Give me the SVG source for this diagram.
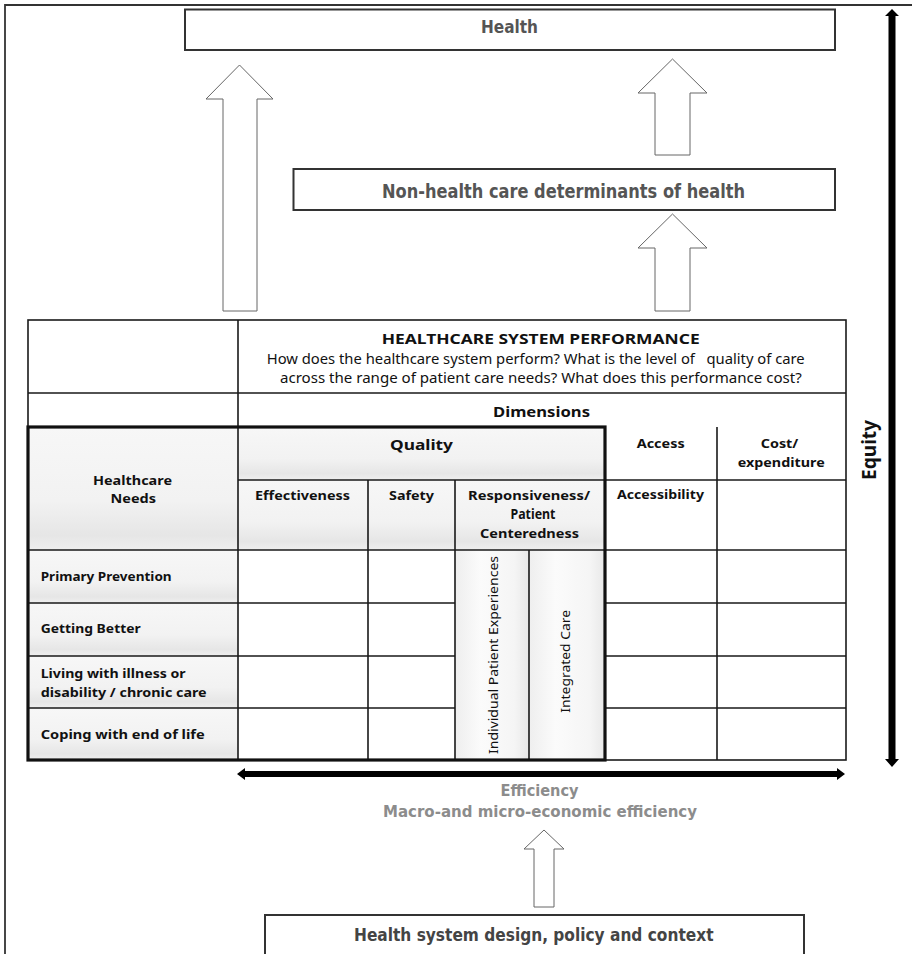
<svg xmlns="http://www.w3.org/2000/svg" width="912" height="954" viewBox="0 0 912 954">
  <style>
    .box { fill: #ffffff; stroke: #333333; stroke-width: 2; }
    .block-arrow { fill: #ffffff; stroke: #666666; stroke-width: 1; stroke-linejoin: miter; }
    .bar-arrow { fill: #000000; stroke: none; }
    .grid { stroke: #1a1a1a; stroke-width: 1.6; fill: none; }
    .thick { stroke: #111111; stroke-width: 3.2; fill: none; }
    .lbl { font-family: "Liberation Sans Narrow", "DejaVu Sans Condensed", "Liberation Sans", sans-serif; font-weight: bold; }
    .tb { font-family: "Noto Sans", "Open Sans", "Liberation Sans", sans-serif; fill: #111111; }
    .b { font-weight: bold; }
  </style>
  <defs>
    <linearGradient id="cellShade" x1="0" y1="0" x2="0" y2="1">
      <stop offset="0" stop-color="#f7f7f7"/>
      <stop offset="0.6" stop-color="#f2f2f2"/>
      <stop offset="0.88" stop-color="#e6e6e6"/>
      <stop offset="1" stop-color="#efefef"/>
    </linearGradient>
    <linearGradient id="colShade" x1="0" y1="0" x2="1" y2="0">
      <stop offset="0" stop-color="#eeeeee"/>
      <stop offset="0.35" stop-color="#fbfbfb"/>
      <stop offset="0.8" stop-color="#f5f5f5"/>
      <stop offset="1" stop-color="#e8e8e8"/>
    </linearGradient>
  </defs>

  <!-- page frame -->
  <rect x="0" y="0" width="912" height="954" fill="#ffffff"/>
  <path d="M5,954 L5,5 L912,5" fill="none" stroke="#333333" stroke-width="1.8"/>

  <!-- outcome boxes -->
  <g id="health">
    <rect class="box" x="185" y="9.5" width="650" height="40.5"/>
    <text class="lbl" x="481" y="32.5" font-size="17" fill="#555555" textLength="57" lengthAdjust="spacingAndGlyphs">Health</text>
  </g>
  <g id="non-health-determinants">
    <rect class="box" x="293.5" y="169" width="541.5" height="41"/>
    <text class="lbl" x="382" y="197.5" font-size="19" fill="#555555" textLength="363" lengthAdjust="spacingAndGlyphs">Non-health care determinants of health</text>
  </g>

  <!-- performance table -->
  <g id="performance-table">
    <!-- shaded cells -->
    <rect x="28" y="427" width="210" height="123" fill="url(#cellShade)"/>
    <rect x="238" y="427" width="367" height="53" fill="url(#cellShade)"/>
    <rect x="238" y="480" width="367" height="70" fill="url(#cellShade)"/>
    <rect x="28" y="550" width="210" height="53" fill="url(#cellShade)"/>
    <rect x="28" y="603" width="210" height="53" fill="url(#cellShade)"/>
    <rect x="28" y="656" width="210" height="52" fill="url(#cellShade)"/>
    <rect x="28" y="708" width="210" height="52" fill="url(#cellShade)"/>
    <rect x="455" y="550" width="74" height="210" fill="url(#colShade)"/>
    <rect x="529" y="550" width="76" height="210" fill="url(#colShade)"/>

    <!-- grid lines -->
    <rect class="grid" x="28" y="320" width="818" height="440"/>
    <path class="grid" d="M28,393 H846 M238,320 V760 M368,480 V760 M455,480 V760 M529,550 V760 M717,427 V760 M238,480 H846 M28,550 H846 M28,603 H455 M605,603 H846 M28,656 H455 M605,656 H846 M28,708 H455 M605,708 H846"/>
    <rect class="thick" x="28" y="427" width="577" height="333"/>

    <!-- header -->
    <text class="tb b" x="381.7" y="344.3" font-size="15" textLength="318" lengthAdjust="spacingAndGlyphs">HEALTHCARE SYSTEM PERFORMANCE</text>
    <text class="tb" x="266.7" y="364" font-size="13.5" textLength="538" lengthAdjust="spacingAndGlyphs" xml:space="preserve">How does the healthcare system perform? What is the level of   quality of care</text>
    <text class="tb" x="280" y="383" font-size="13.5" textLength="521.7" lengthAdjust="spacingAndGlyphs">across the range of patient care needs? What does this performance cost?</text>
    <text class="tb b" x="493" y="416.7" font-size="14.5" textLength="97" lengthAdjust="spacingAndGlyphs">Dimensions</text>

    <text class="tb b" x="390" y="450" font-size="15" textLength="63" lengthAdjust="spacingAndGlyphs">Quality</text>
    <text class="tb b" x="636.7" y="448" font-size="13" textLength="48" lengthAdjust="spacingAndGlyphs">Access</text>
    <text class="tb b" x="760.7" y="448" font-size="13" textLength="37.6" lengthAdjust="spacingAndGlyphs">Cost/</text>
    <text class="tb b" x="737.7" y="466.7" font-size="13" textLength="87" lengthAdjust="spacingAndGlyphs">expenditure</text>

    <text class="tb b" x="93" y="485" font-size="13" textLength="79" lengthAdjust="spacingAndGlyphs">Healthcare</text>
    <text class="tb b" x="110.5" y="503.3" font-size="13" textLength="45.5" lengthAdjust="spacingAndGlyphs">Needs</text>

    <text class="tb b" x="255" y="500" font-size="13" textLength="95" lengthAdjust="spacingAndGlyphs">Effectiveness</text>
    <text class="tb b" x="389" y="500" font-size="13" textLength="45" lengthAdjust="spacingAndGlyphs">Safety</text>
    <text class="tb b" x="468" y="500" font-size="13" textLength="122" lengthAdjust="spacingAndGlyphs">Responsiveness/</text>
    <text class="tb b" x="510.5" y="519.3" font-size="13.5" textLength="45" lengthAdjust="spacingAndGlyphs">Patient</text>
    <text class="tb b" x="480" y="537.7" font-size="13" textLength="99" lengthAdjust="spacingAndGlyphs">Centeredness</text>
    <text class="tb b" x="617" y="499.3" font-size="13" textLength="87" lengthAdjust="spacingAndGlyphs">Accessibility</text>

    <!-- care needs rows -->
    <text class="tb b" x="40.7" y="581" font-size="12.5" textLength="131" lengthAdjust="spacingAndGlyphs">Primary Prevention</text>
    <text class="tb b" x="40.7" y="633.3" font-size="12.5" textLength="100" lengthAdjust="spacingAndGlyphs">Getting Better</text>
    <text class="tb b" x="40.7" y="678.3" font-size="12.5" textLength="145" lengthAdjust="spacingAndGlyphs">Living with illness or</text>
    <text class="tb b" x="40.7" y="696.7" font-size="12.5" textLength="166" lengthAdjust="spacingAndGlyphs">disability / chronic care</text>
    <text class="tb b" x="40.7" y="739.3" font-size="12.5" textLength="164" lengthAdjust="spacingAndGlyphs">Coping with end of life</text>

    <!-- responsiveness sub-columns -->
    <text class="tb" transform="translate(498.3,754) rotate(-90)" x="0" y="0" font-size="13" textLength="198" lengthAdjust="spacingAndGlyphs">Individual Patient Experiences</text>
    <text class="tb" transform="translate(569.5,712.7) rotate(-90)" x="0" y="0" font-size="13" textLength="102.7" lengthAdjust="spacingAndGlyphs">Integrated Care</text>
  </g>

  <g id="equity">
    <text class="tb b" transform="translate(875.5,480) rotate(-90)" x="0" y="0" font-size="19" textLength="60" lengthAdjust="spacingAndGlyphs">Equity</text>
  </g>

  <g id="efficiency">
    <text class="lbl" x="500.5" y="796" font-size="16" fill="#8c8c8c" textLength="78" lengthAdjust="spacingAndGlyphs">Efficiency</text>
    <text class="lbl" x="383" y="816.5" font-size="16" fill="#8c8c8c" textLength="314" lengthAdjust="spacingAndGlyphs">Macro-and micro-economic efficiency</text>
  </g>

  <g id="health-system-design">
    <rect class="box" x="265" y="915" width="539" height="50"/>
    <text class="lbl" x="354" y="941" font-size="17" fill="#444444" textLength="359.5" lengthAdjust="spacingAndGlyphs">Health system design, policy and context</text>
  </g>

  <!-- connectors -->
  <g id="connectors">
    <!-- performance to health -->
    <path class="block-arrow" d="M223,311 L223,99 L206,99 L239.5,65 L273,99 L257,99 L257,311 Z"/>
    <!-- determinants to health -->
    <path class="block-arrow" d="M655,155 L655,93 L638,93 L672.5,59 L707,93 L690,93 L690,155 Z"/>
    <!-- performance to determinants -->
    <path class="block-arrow" d="M655,311 L655,248 L638,248 L672.5,214 L707,248 L690,248 L690,311 Z"/>
    <!-- design to efficiency -->
    <path class="block-arrow" d="M534,907 L534,849 L524,849 L544,830 L564,849 L554,849 L554,907 Z"/>
    <!-- efficiency axis -->
    <path class="bar-arrow" d="M237,774 L245,768 L245,771 L837,771 L837,768 L845,774 L837,780 L837,777 L245,777 L245,780 Z"/>
    <!-- equity axis -->
    <path class="bar-arrow" d="M892,9 L899,16 L895.5,16 L895.5,759 L899,759 L892,767 L885,759 L888.5,759 L888.5,16 L885,16 Z"/>
  </g>
</svg>
